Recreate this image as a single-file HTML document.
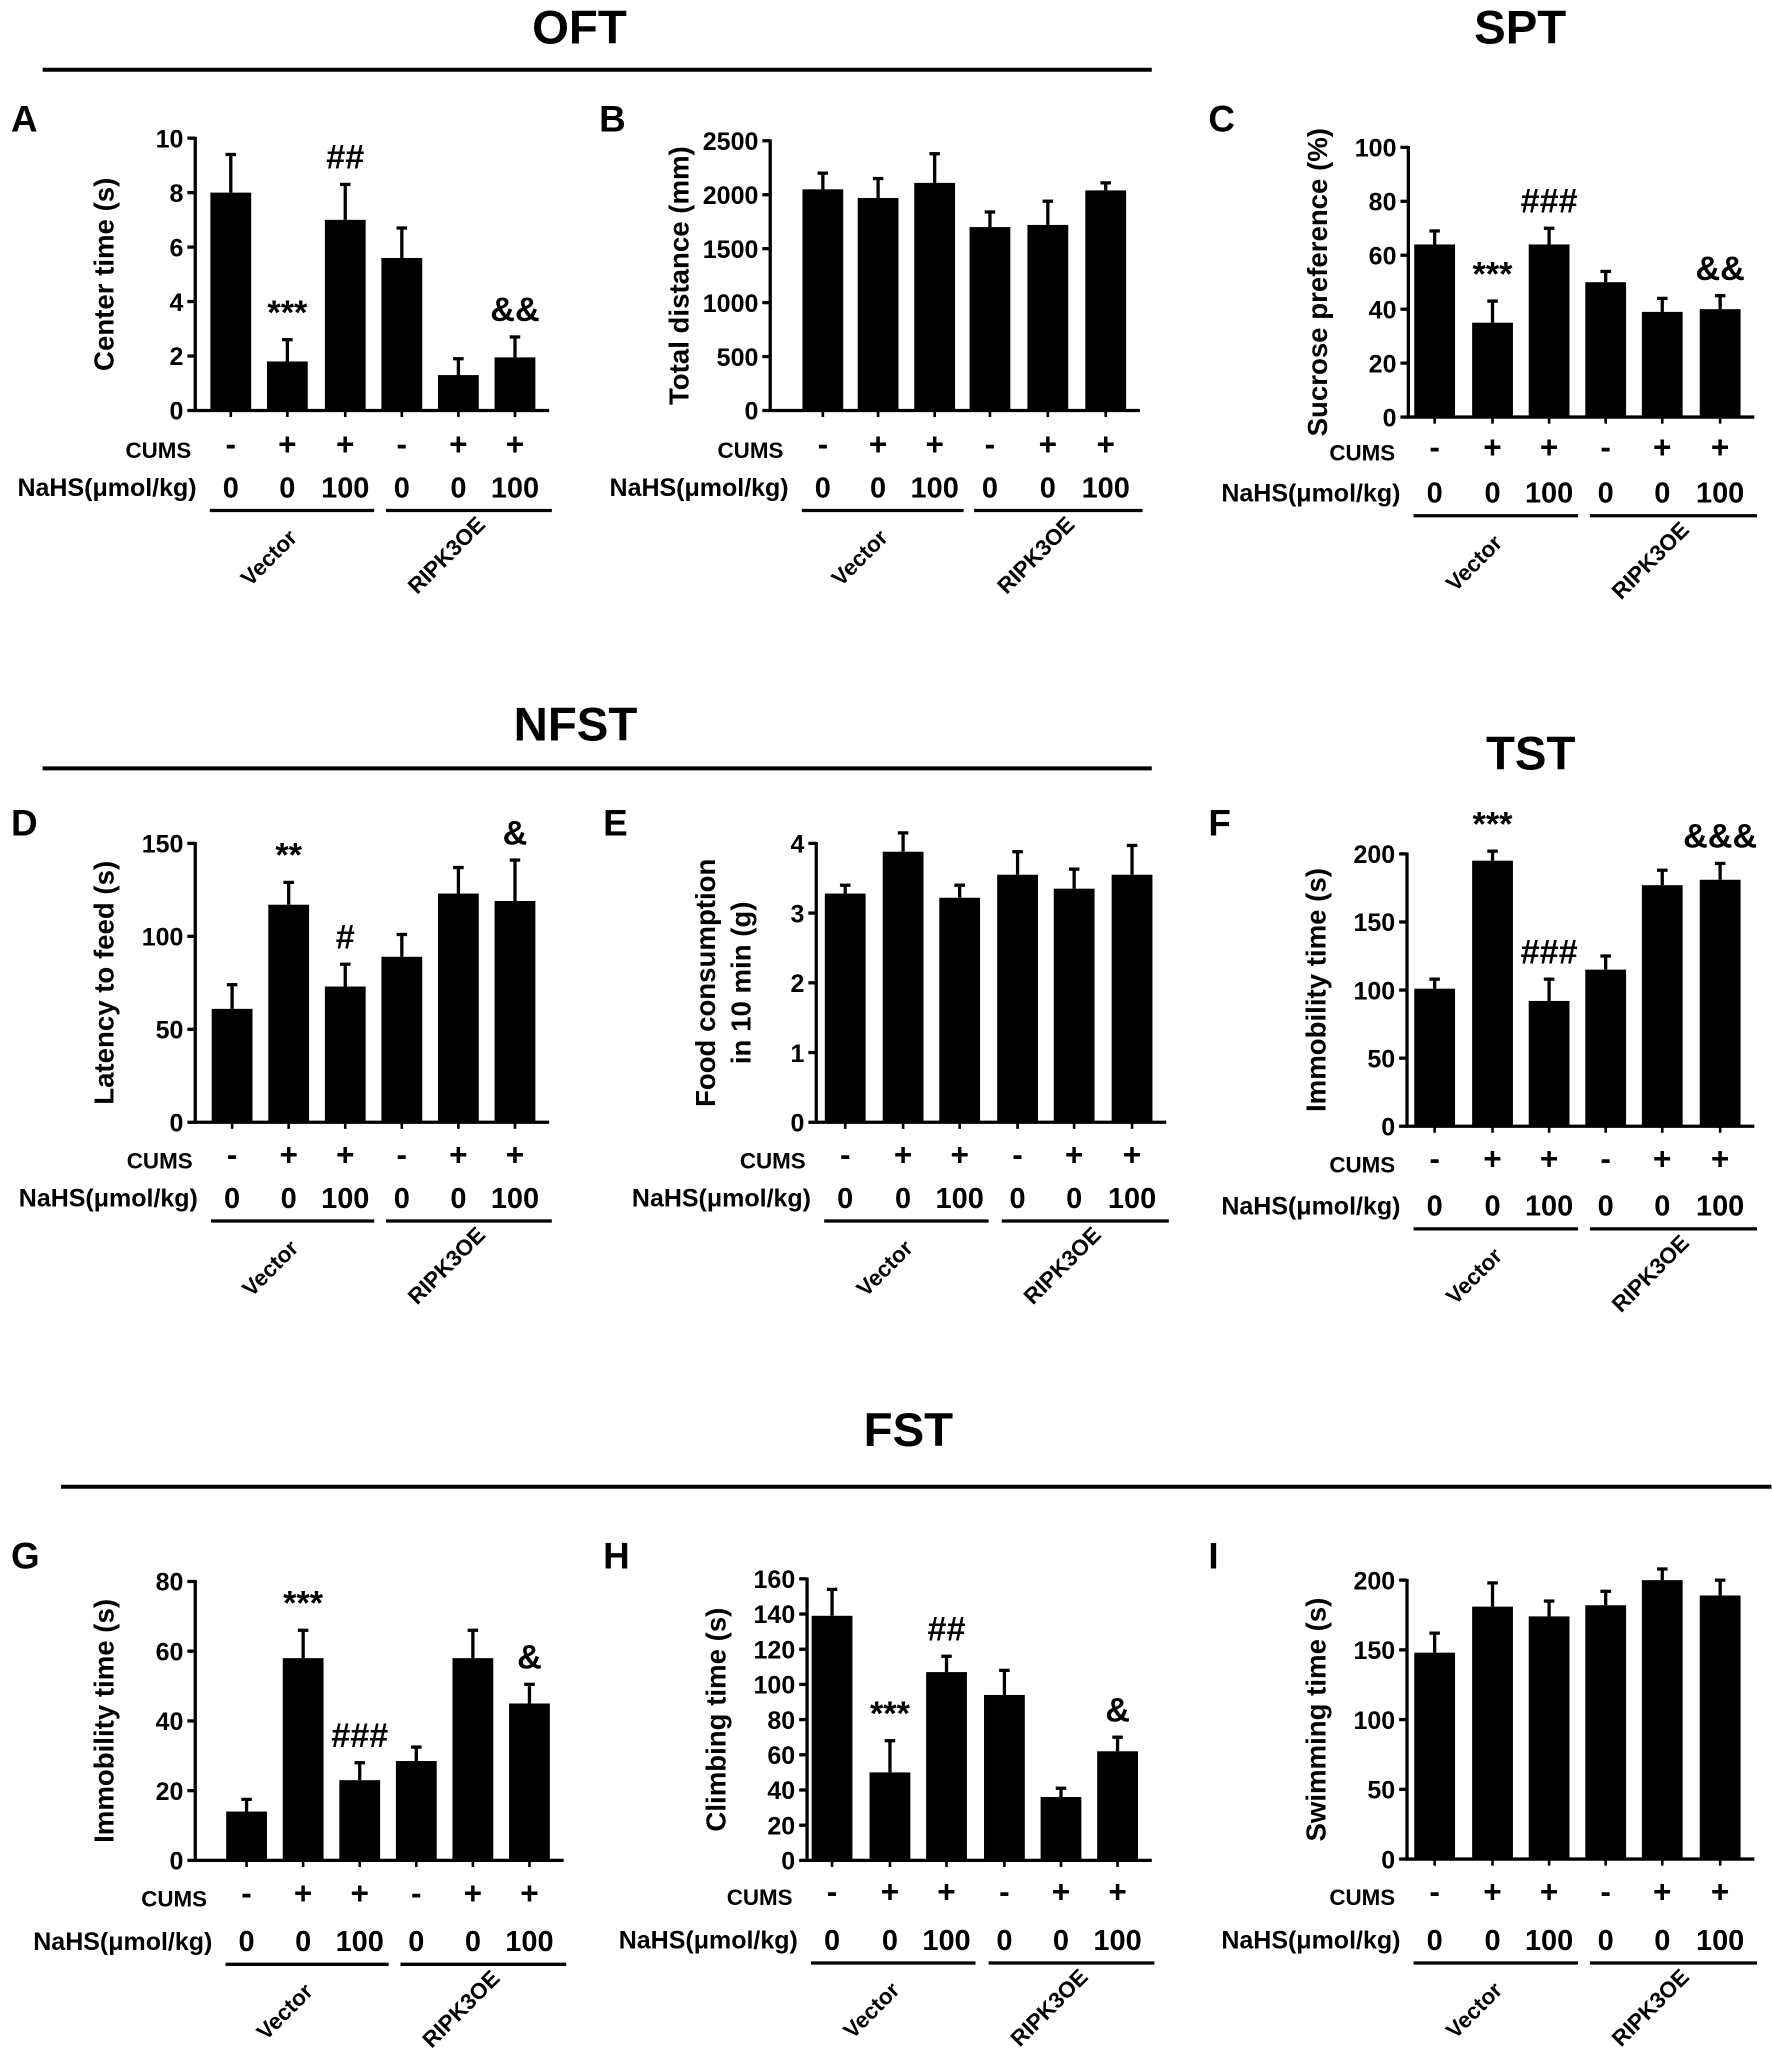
<!DOCTYPE html>
<html><head><meta charset="utf-8"><style>body{margin:0;background:#fff}svg{display:block}</style></head>
<body>
<svg id="s" xmlns="http://www.w3.org/2000/svg" width="1772" height="2063" viewBox="0 0 1346 1568" font-family="Liberation Sans, sans-serif" font-weight="bold"></svg>
<script>
const s=document.getElementById('s');let h='';
function T(x,y,t,sz,anc,extra){h+=`<text x="${x}" y="${y}" font-size="${sz}" text-anchor="${anc||'middle'}" ${extra||''}>${t}</text>`;}
function L(x1,y1,x2,y2,w){h+=`<line x1="${x1}" y1="${y1}" x2="${x2}" y2="${y2}" stroke="#000" stroke-width="${w||2.5}"/>`;}
T(440,33,'OFT',36);L(32,53,875,53,3);
T(1155,33,'SPT',36);
T(437,563,'NFST',36);L(32,584,875,584,3);
T(1163,585,'TST',36);
T(690,1099,'FST',36);L(46,1130,1346,1130,3);
function P(o){
 const {ax,y0,yt,max,step,cs,vals,errs,ylab,lab,lx,ly,cy,ny,ann}=o;
 T(lx,ly,lab,28,'start');
 const sc=(y0-yt)/max;
 const Y=v=>y0-v*sc;
 const xe=cs[5]+26;
 L(ax,yt-1,ax,y0+1);L(ax-1,y0,xe,y0);
 for(let v=0;v<=max+1e-9;v+=step){const y=Y(v);L(ax-6,y,ax,y,2.5);T(ax-9,y+7,v,19,'end');}
 const bw=31;
 cs.forEach((c,i)=>{
  const yv=Y(vals[i]),ye=Y(errs[i]);
  L(c,yv,c,ye,2.5);L(c-4,ye,c+4,ye,2.5);
  h+=`<rect x="${c-bw/2}" y="${yv}" width="${bw}" height="${y0-yv}" fill="#000"/>`;
  L(c,y0,c,y0+5,2);
  if(ann[i])T(c,ye-12,ann[i],26);
 });
 const my=(y0+yt)/2;
 if(ylab)T(0,0,ylab,21,'middle',`transform="translate(${ax-62},${my}) rotate(-90)"`);
 T(cs[0]-30,cy+7,'CUMS',17,'end');
 T(cs[0]-26,ny+7,'NaHS(μmol/kg)',19,'end');
 ['-','+','+','-','+','+'].forEach((t,i)=>T(cs[i],cy+5,t,24));
 ['0','0','100','0','0','100'].forEach((t,i)=>T(cs[i],ny+8,t,22));
 const ly2=ny+18;
 L(cs[0]-16,ly2,cs[2]+22,ly2,2.5);L(cs[3]-12,ly2,cs[5]+28,ly2,2.5);
 T(0,0,'Vector',17,'middle',`transform="translate(${cs[1]-10},${ly2+40}) rotate(-45)"`);
 T(0,0,'RIPK3OE',17,'middle',`transform="translate(${cs[4]-5},${ly2+38}) rotate(-45)"`);
}
const c1=[175,218,262,305,348,391];
P({ax:148,y0:312,yt:105,max:10,step:2,cs:c1,vals:[8,1.8,7,5.6,1.3,1.95],errs:[9.4,2.6,8.3,6.7,1.9,2.7],ylab:'Center time (s)',lab:'A',lx:8,ly:100,cy:341,ny:370,ann:['','***','##','','','&&']});
P({ax:585,y0:312,yt:107,max:2500,step:500,cs:[625,667,710,752,796,840],vals:[2050,1970,2110,1700,1720,2040],errs:[2200,2150,2380,1840,1940,2110],ylab:'Total distance (mm)',lab:'B',lx:455,ly:100,cy:341,ny:370,ann:['','','','','','']});
const c3=[1090,1134,1177,1220,1263,1307];
P({ax:1070,y0:317,yt:112,max:100,step:20,cs:c3,vals:[64,35,64,50,39,40],errs:[69,43,70,54,44,45],ylab:'Sucrose preference (%)',lab:'C',lx:918,ly:100,cy:343,ny:374,ann:['','***','###','','','&&']});
P({ax:148,y0:853,yt:641,max:150,step:50,cs:[176,219,262,305,348,391],vals:[61,117,73,89,123,119],errs:[74,129,85,101,137,141],ylab:'Latency to feed (s)',lab:'D',lx:8,ly:635,cy:881,ny:910,ann:['','**','#','','','&']});
P({ax:620,y0:853,yt:641,max:4,step:1,cs:[642,686,729,773,816,860],vals:[3.28,3.88,3.22,3.55,3.35,3.55],errs:[3.4,4.15,3.4,3.88,3.63,3.97],ylab:'',lab:'E',lx:458,ly:635,cy:881,ny:910,ann:['','','','','','']});
T(0,0,'Food consumption',21,'middle','transform="translate(543,747) rotate(-90)"');
T(0,0,'in 10 min (g)',21,'middle','transform="translate(570,747) rotate(-90)"');
P({ax:1069,y0:856,yt:649,max:200,step:50,cs:c3,vals:[101,195,92,115,177,181],errs:[108,202,108,125,188,193],ylab:'Immobility time (s)',lab:'F',lx:918,ly:635,cy:884,ny:916,ann:['','***','###','','','&&&']});
P({ax:148,y0:1414,yt:1202,max:80,step:20,cs:[187,230,273,316,359,402],vals:[14,58,23,28.5,58,45],errs:[17.5,66,28,32.5,66,50.5],ylab:'Immobility time (s)',lab:'G',lx:8,ly:1192,cy:1442,ny:1475,ann:['','***','###','','','&']});
P({ax:613,y0:1414,yt:1200,max:160,step:20,cs:[632,676,719,763,806,849],vals:[139,50,107,94,36,62],errs:[154,68,116,108,41,70],ylab:'Climbing time (s)',lab:'H',lx:458,ly:1192,cy:1441,ny:1474,ann:['','***','##','','','&']});
P({ax:1069,y0:1413,yt:1201,max:200,step:50,cs:c3,vals:[148,181,174,182,200,189],errs:[162,198,185,192,208,200],ylab:'Swimming time (s)',lab:'I',lx:918,ly:1192,cy:1441,ny:1474,ann:['','','','','','']});
s.innerHTML=h;
</script>
</body></html>
